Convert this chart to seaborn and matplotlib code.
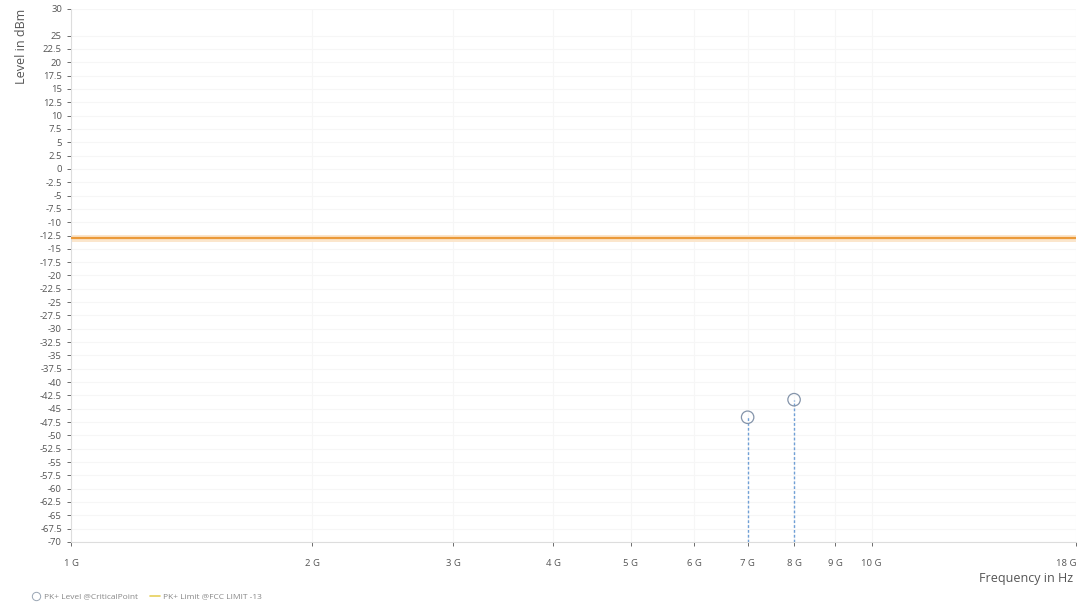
import numpy as np
import pandas as pd
import matplotlib
matplotlib.use("Agg")
import matplotlib.pyplot as plt
from matplotlib.lines import Line2D
import seaborn as sns

# critical points (peak detector)
crit_freq = [7.0e9, 8.0e9]
crit_level = [-46.6, -43.3]

# FCC limit line
limit_freq = [1.0e9, 18.0e9]
limit_level = [-13.0, -13.0]

x_ticks = [1e9, 2e9, 3e9, 4e9, 5e9, 6e9, 7e9, 8e9, 9e9, 10e9, 18e9]
x_labels = ["1 G", "2 G", "3 G", "4 G", "5 G", "6 G", "7 G", "8 G", "9 G", "10 G", "18 G"]
y_ticks = list(np.arange(-70, 27.5, 2.5)) + [30]

sns.set_theme(style="white")
plt.rcParams['font.family'] = ['Open Sans', 'DejaVu Sans']

fig = plt.figure(figsize=(10.81, 6.08), dpi=100)
ax = fig.add_axes([0.0657, 0.1086, 0.9297, 0.8766])

crit = pd.DataFrame({"freq": crit_freq, "level": crit_level})
limit = pd.DataFrame({"freq": limit_freq, "level": limit_level})

# limit line with soft halo
sns.lineplot(data=limit, x="freq", y="level", ax=ax, color="#fbe6cc", linewidth=5, zorder=2)
sns.lineplot(data=limit, x="freq", y="level", ax=ax, color="#eb9a3a", linewidth=1.6, zorder=3)

# stems down to the axis bottom
ax.vlines(crit["freq"], -70, crit["level"], colors="#6f9fd6", linestyles=(0, (2, 1.5)),
          linewidth=1.0, zorder=3)
sns.scatterplot(data=crit, x="freq", y="level", ax=ax, s=80, marker="o",
                facecolor="none", edgecolor="#8494aa", linewidth=0.9, zorder=4)

ax.set_xscale("log")
ax.set_xlim(1e9, 18e9)
ax.set_ylim(-70, 30)
ax.set_xticks(x_ticks)
ax.set_xticklabels(x_labels)
ax.xaxis.set_minor_locator(matplotlib.ticker.NullLocator())
ax.set_yticks(y_ticks)
ax.set_yticklabels(["%g" % v for v in y_ticks])

ax.tick_params(axis="both", labelsize=6.8, colors="#555555", length=3, width=0.6,
               direction="out", left=True, bottom=True)
ax.tick_params(axis="x", pad=9)
for t in ax.get_xticklabels() + ax.get_yticklabels():
    t.set_color("#555555")
ax.get_xticklabels()[-1].set_horizontalalignment("right")

ax.grid(True, color="#f6f6f6", linewidth=0.8)
for side in ["top", "right"]:
    ax.spines[side].set_visible(False)
for side in ["left", "bottom"]:
    ax.spines[side].set_color("#dddddd")
    ax.spines[side].set_linewidth(0.8)

ax.set_xlabel("")
ax.set_ylabel("")
fig.text(0.014, 0.985, "Level in dBm", rotation=90, ha="left", va="top",
         fontsize=9, color="#555555")
fig.text(0.993, 0.038, "Frequency in Hz", ha="right", va="bottom",
         fontsize=9, color="#555555")

handles = [
    Line2D([], [], marker="o", linestyle="none", markerfacecolor="none",
           markeredgecolor="#9aa6b4", markersize=6, markeredgewidth=0.7),
    Line2D([], [], color="#e6cf5a", linewidth=1.2),
]
fig.legend(handles, ["PK+ Level @CriticalPoint", "PK+ Limit @FCC LIMIT -13"],
           loc="lower left", bbox_to_anchor=(0.022, 0.0), ncol=2, frameon=False,
           fontsize=6, labelcolor="#888888", handlelength=1.2, handletextpad=0.3,
           columnspacing=1.5)

fig.savefig("out.png", dpi=100)
